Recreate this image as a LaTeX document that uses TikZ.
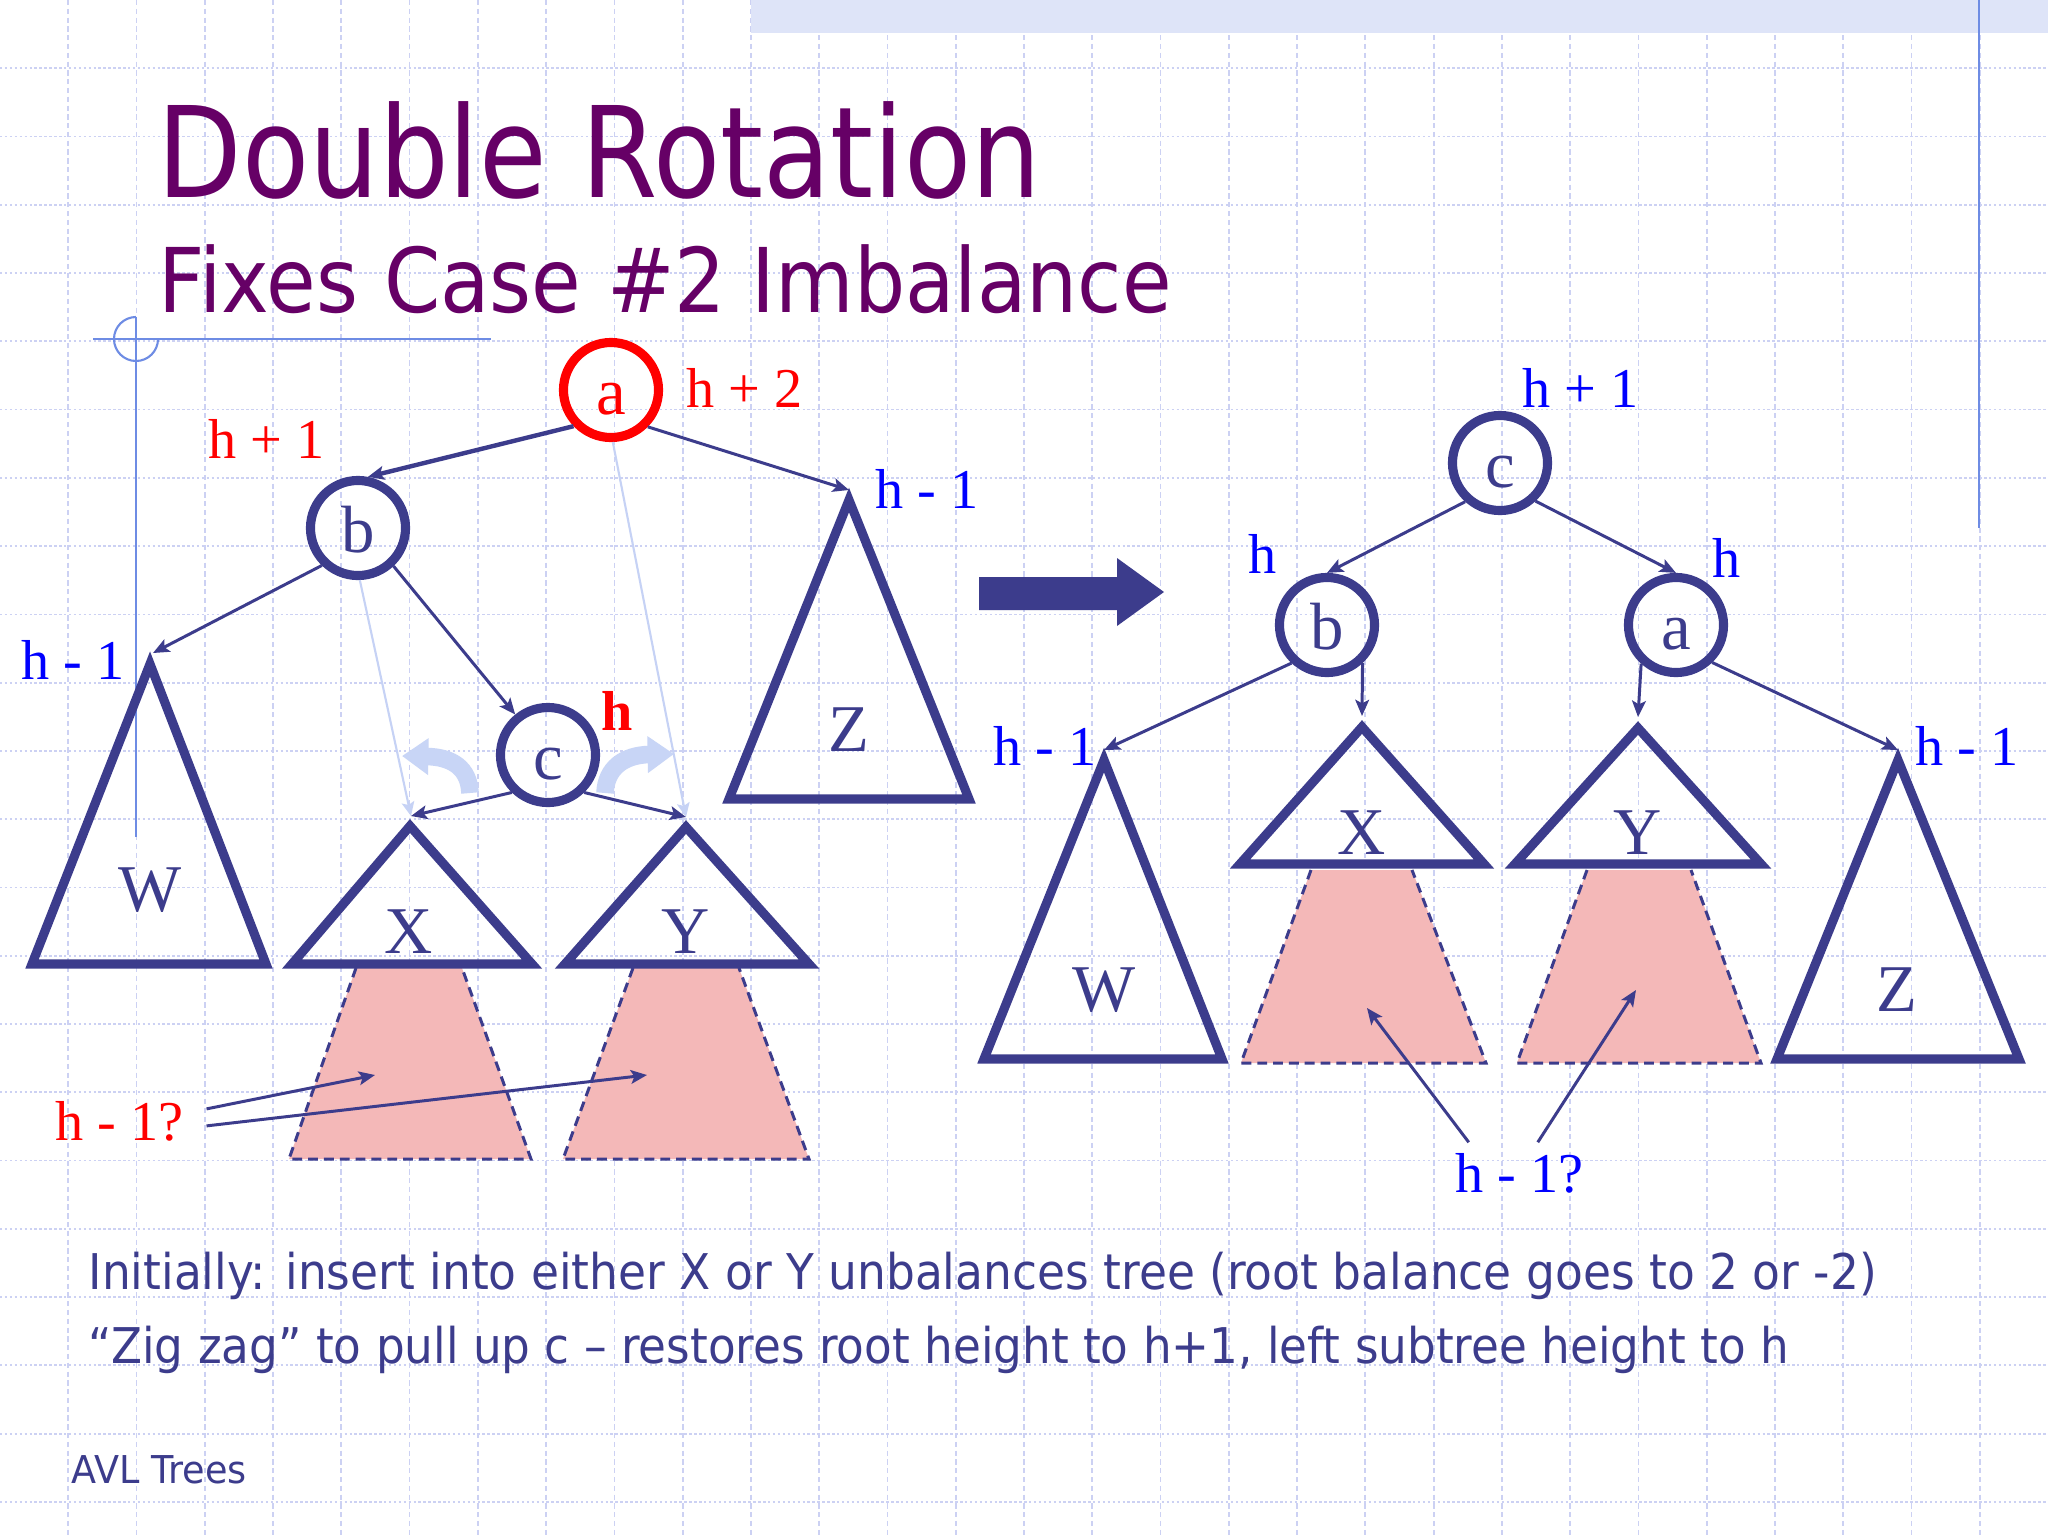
\documentclass[tikz,border=0pt]{standalone}
\usepackage{fontspec}
\setmainfont{Liberation Serif}
\newfontfamily\sansf{DejaVu Sans}
\usetikzlibrary{arrows.meta}
\newlength\pxu
\setlength\pxu{0.01cm}
\definecolor{dkblue}{RGB}{60,60,140}
\definecolor{titlepurple}{RGB}{102,0,102}
\definecolor{gridc}{RGB}{204,209,243}
\definecolor{bandc}{RGB}{222,228,248}
\definecolor{decoc}{RGB}{110,140,228}
\definecolor{faintc}{RGB}{198,210,245}
\definecolor{curvc}{RGB}{200,213,246}
\definecolor{pinkc}{RGB}{244,184,184}
\definecolor{lblue}{RGB}{0,0,255}
\definecolor{lred}{RGB}{255,0,0}
\tikzset{
  gridv/.style={draw=gridc, line width=0.5pt, dash pattern=on 1.5pt off 1pt},
  gridh/.style={draw=gridc, line width=0.5pt, dash pattern=on 0.7pt off 0.7pt},
  deco/.style={draw=decoc, line width=0.6pt},
  treenode/.style={circle, draw=dkblue, text=dkblue, line width=2.6pt, minimum size=0.95cm,
    inner sep=0pt, text height=0.48cm, text depth=0pt, font=\fontsize{19pt}{20pt}\selectfont},
  tri/.style={draw=dkblue, line width=2.6pt, line join=miter},
  triletter/.style={text=dkblue, inner sep=0pt, font=\fontsize{19pt}{20pt}\selectfont},
  conn/.style={draw=dkblue, line width=0.85pt, -{Stealth[length=4.6pt, width=3.9pt, inset=1pt]}},
  faint/.style={draw=faintc, line width=0.6pt, -{Stealth[length=4pt, width=3.6pt, inset=0.8pt]}},
  curv/.style={draw=curvc, line width=5pt, -{Triangle[length=7.5pt, width=10pt]}},
  trap/.style={fill=pinkc},
  trapedge/.style={draw=dkblue, line width=0.85pt, dash pattern=on 2.8pt off 1.7pt},
  lbl/.style={inner sep=0pt, anchor=base west, font=\fontsize{16pt}{18pt}\selectfont},
  sanstext/.style={inner sep=0pt, anchor=base west},
}
\begin{document}
\begin{tikzpicture}[x=0.01cm, y=-0.01cm]
\useasboundingbox (0,0) rectangle (2048,1536);
\fill[white] (0,0) rectangle (2048,1536);
% grid
\foreach \k in {1,...,29} \draw[gridv] ({\k*68.267},0) -- ({\k*68.267},1536);
\foreach \k in {1,...,22} \draw[gridh] (0,{\k*68.267}) -- (2048,{\k*68.267});
% top band and decoration lines
\fill[bandc] (751,0) rectangle (2048,33);
\draw[deco] (1979,0) -- (1979,528);
\draw[deco] (93,339) -- (491,339);
\draw[deco] (136,317) -- (136,837);
\draw[deco] (136,317) arc[start angle=270, end angle=0, radius=22];

% titles
\node[sanstext, text=titlepurple] (title) at (157,197)
  {\resizebox{883\pxu}{\height}{\sansf\fontsize{35.9pt}{40pt}\selectfont Double Rotation}};
\node[sanstext, text=titlepurple] (subtitle) at (158,312)
  {\resizebox{1013\pxu}{\height}{\sansf\fontsize{25.4pt}{30pt}\selectfont Fixes Case \#2 Imbalance}};

% ---------- left tree: pink trapezoids ----------
\fill[trap] (356,968) -- (289,1159) -- (531,1159) -- (462,968) -- cycle;
\draw[trapedge] (356,968) -- (289,1159) -- (531,1159) -- (462,968);
\fill[trap] (633,968) -- (563,1159) -- (809,1159) -- (739,968) -- cycle;
\draw[trapedge] (633,968) -- (563,1159) -- (809,1159) -- (739,968);

% left triangles
\draw[tri] (150,664) -- (32,964) -- (266,964) -- cycle;
\draw[tri] (849,500) -- (729,799) -- (969,799) -- cycle;
\draw[tri] (410,826) -- (292,964) -- (532,964) -- cycle;
\draw[tri] (686,827) -- (565,964) -- (809,964) -- cycle;
\coordinate (Wt) at (153,653);
\coordinate (Zt) at (849,490);
\coordinate (Xt) at (411,816);
\coordinate (Yt) at (686,817);
\node[triletter] (Wl) at (150,890) {W};
\node[triletter] (Zl) at (849,730) {Z};
\node[triletter] (Xl) at (409,932) {X};
\node[triletter] (Yl) at (686,932) {Y};

% left nodes
\node[treenode, draw=lred, text=lred] (a) at (611,390) {a};
\node[treenode] (b) at (358,528) {b};
\node[treenode] (c) at (548,755) {c};

% faint arrows
\draw[faint] (b.-88) -- (Xt);
\draw[faint] (a.-88) -- (Yt);
% curved rotation arrows
\coordinate (cl1) at (470,793);
\coordinate (cl2) at (402,756);
\coordinate (cr1) at (605,793);
\coordinate (cr2) at (674,754);
\draw[curv] (cl1) .. controls (469,768) and (452,757) .. (cl2);
\draw[curv] (cr1) .. controls (606,768) and (624,755) .. (cr2);

% left connectors
\draw[conn, line width=1.25pt] (a.224) -- (b.79);
\draw[conn] (a.-45) -- (Zt);
\draw[conn] (b.226) -- (Wt);
\draw[conn] (b.-47) -- (c.129);
\draw[conn] (c.226) -- (Xt);
\draw[conn] (c.-46) -- (Yt);

% left labels
\node[lbl, text=lred] (lh2) at (686,407) {h + 2};
\node[lbl, text=lred] (lh1) at (208,458) {h + 1};
\node[lbl, text=lblue] (lzh) at (875,508) {h - 1};
\node[lbl, text=lblue] (lwh) at (21,679) {h - 1};
\node[lbl, text=lred, font=\fontsize{16pt}{18pt}\selectfont\bfseries] (lch) at (601,730) {h};
\node[lbl, text=lred] (lq) at (55,1140) {h - 1?};
\coordinate (lqt1) at (375,1075);
\coordinate (lqt2) at (647,1075);
\draw[conn] ([xshift=0.22cm, yshift=0.12cm]lq.east) -- (lqt1);
\draw[conn] ([xshift=0.22cm, yshift=-0.05cm]lq.east) -- (lqt2);

% big transition arrow
\fill[dkblue] (979,577) -- (1117,577) -- (1117,558) -- (1164,592) -- (1117,626) -- (1117,610) -- (979,610) -- cycle;

% ---------- right tree ----------
\fill[trap] (1311,870) -- (1241,1063) -- (1486,1063) -- (1412,870) -- cycle;
\draw[trapedge] (1311,870) -- (1241,1063) -- (1486,1063) -- (1412,870);
\fill[trap] (1587,870) -- (1517,1063) -- (1761,1063) -- (1691,870) -- cycle;
\draw[trapedge] (1587,870) -- (1517,1063) -- (1761,1063) -- (1691,870);

\draw[tri] (1104,760) -- (984,1059) -- (1222,1059) -- cycle;
\draw[tri] (1362,727) -- (1240,864) -- (1484,864) -- cycle;
\draw[tri] (1638,728) -- (1515,864) -- (1761,864) -- cycle;
\draw[tri] (1898,760) -- (1777,1059) -- (2019,1059) -- cycle;
\coordinate (W2t) at (1104,750);
\coordinate (X2t) at (1362,716);
\coordinate (Y2t) at (1638,717);
\coordinate (Z2t) at (1898,750);
\node[triletter] (W2l) at (1104,990) {W};
\node[triletter] (X2l) at (1362,833) {X};
\node[triletter] (Y2l) at (1638,833) {Y};
\node[triletter] (Z2l) at (1897,990) {Z};

\node[treenode] (c2) at (1500,463) {c};
\node[treenode] (b2) at (1327,625) {b};
\node[treenode] (a2) at (1676,625) {a};

\draw[conn] (c2.228) -- (b2.90);
\draw[conn] (c2.-47) -- (a2.90);
\draw[conn] (b2.227) -- (W2t);
\draw[conn] (b2.-47) -- (X2t);
\draw[conn] (a2.228) -- (Y2t);
\draw[conn] (a2.-46) -- (Z2t);

\node[lbl, text=lblue] (rc1) at (1522,407) {h + 1};
\node[lbl, text=lblue] (rbh) at (1248,573) {h};
\node[lbl, text=lblue] (rah) at (1712,577) {h};
\node[lbl, text=lblue] (rwh) at (993,765) {h - 1};
\node[lbl, text=lblue] (rzh) at (1915,765) {h - 1};
\node[lbl, text=lblue] (rq) at (1455,1192) {h - 1?};
\coordinate (rqt1) at (1367,1008);
\coordinate (rqt2) at (1636,990);
\draw[conn] ([xshift=-0.51cm, yshift=0.1cm]rq.north) -- (rqt1);
\draw[conn] ([xshift=0.18cm, yshift=0.1cm]rq.north) -- (rqt2);

% bottom texts
\node[sanstext, text=dkblue] (line1) at (88,1289)
  {\resizebox{1788\pxu}{\height}{\sansf\fontsize{14pt}{16pt}\selectfont Initially: insert into either X or Y unbalances tree (root balance goes to 2 or -2)}};
\node[sanstext, text=dkblue] (line2) at (88,1363)
  {\resizebox{1700\pxu}{\height}{\sansf\fontsize{14pt}{16pt}\selectfont “Zig zag” to pull up c – restores root height to h+1, left subtree height to h}};
\node[sanstext, text=dkblue] (footer) at (71,1483)
  {\resizebox{175\pxu}{\height}{\sansf\fontsize{10.9pt}{12pt}\selectfont AVL Trees}};
\end{tikzpicture}
\end{document}
